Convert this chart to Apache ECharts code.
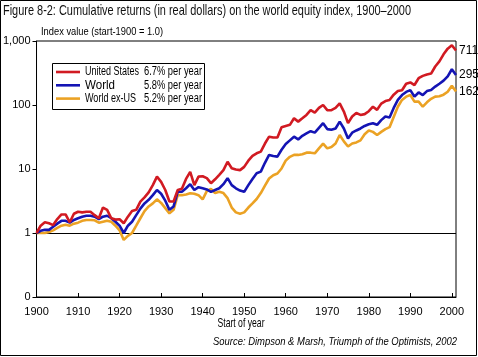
<!DOCTYPE html>
<html>
<head>
<meta charset="utf-8">
<script src="https://cdn.jsdelivr.net/npm/echarts@6/dist/echarts.min.js"></script>
<style>html,body{margin:0;padding:0;background:#fff}#c{width:478px;height:357px}</style>
</head>
<body>
<div id="c"></div>
<script>
var startYear = 1900;
var seriesNames = ['United States', 'World', 'World ex-US'];
var annualRates = ['6.7% per year', '5.8% per year', '5.2% per year'];
var xTickLabels = [1900, 1910, 1920, 1930, 1940, 1950, 1960, 1970, 1980, 1990, 2000];
var yTickLabels = {'0.1': '0', '1': '1', '10': '10', '100': '100', '1000': '1,000'};

var usValues = [
1.0,1.3,1.47,1.42,1.33,1.65,1.95,1.95,1.47,2.0,
2.15,2.1,2.15,2.15,1.9,1.7,2.5,2.3,1.7,1.62,
1.64,1.42,1.8,2.2,2.3,3.1,3.6,4.3,5.6,7.6,
6.3,4.7,3.1,3.1,4.7,4.9,7.0,9.0,5.6,7.6,
7.7,7.2,6.0,6.9,8.1,9.6,13,10.3,9.8,9.6,
10.8,13.5,16,17.6,18.7,25,32,31,31,45,
47,49,62,55,62,70,83,76,90,100,
83,83,90,106,79,52,66,75,70,72,
80,94,84,105,115,120,145,165,170,215,
225,205,262,285,300,310,400,480,620,760,
860,711];
var worldValues = [
1.0,1.08,1.12,1.12,1.25,1.4,1.55,1.55,1.45,1.6,
1.7,1.8,1.86,1.86,1.8,1.65,1.8,1.86,1.7,1.5,
1.3,1.0,1.3,1.5,1.9,2.4,2.9,3.3,3.9,4.7,
4.1,3.2,2.3,2.6,4.4,4.4,5.0,5.8,4.7,5.2,
5.0,4.8,4.4,4.7,5.0,5.8,7.2,5.6,5.0,4.6,
4.4,5.6,7.0,8.6,9.1,12.5,16.6,16,15.6,20,
24.5,28,32,29,33,36,39,37,44,52,
42,41,43,55,43,30,37,40,43,47,
50,52,49,58,66,64,90,120,143,160,
171,135,157,143,165,172,194,215,240,280,
362,295];
var exUsValues = [
1.0,1.0,1.0,1.04,1.1,1.2,1.3,1.35,1.3,1.4,
1.45,1.55,1.6,1.6,1.58,1.45,1.5,1.55,1.5,1.3,
1.1,0.78,0.9,1.0,1.3,1.7,2.2,2.6,2.9,3.36,
2.95,2.45,2.03,2.3,3.9,3.9,4.0,4.17,4.1,3.9,
3.36,4.5,4.9,4.2,4.4,4.2,3.5,2.5,2.1,2.0,
2.1,2.5,2.9,3.4,4.2,5.5,7.1,8.0,8.5,10.2,
13.5,15.5,16.6,16.6,17,18,18,17.6,21,25,
21,22,25,34,27,22.5,25,26,28,35,
40,38,34,38,42,45,65,94,120,135,
143,113,113,94,110,125,135,137,145,161,
200,162];

var colors = ['#d11a22', '#1414b4', '#eba224'];
var allValues = [usValues, worldValues, exUsValues];
var FONT = 'Liberation Sans, Arial, sans-serif';

// measure text so that wide fallback fonts can be condensed to the original's width
var measureCtx = document.createElement('canvas').getContext('2d');
function textWidth(text, size, style) {
  measureCtx.font = (style || '') + ' ' + size + 'px ' + FONT;
  return measureCtx.measureText(text).width;
}
function condensedText(text, size, x, y, targetW, align, extra) {
  var w = textWidth(text, size, extra && extra.fontStyle);
  var s = Math.min(1, targetW / w);
  var st = { text: text, fontSize: size, fill: '#000', fontFamily: FONT, align: align || 'left', verticalAlign: 'middle' };
  if (extra) { for (var k in extra) st[k] = extra[k]; }
  return { type: 'text', x: x, y: y, scaleX: s, scaleY: 1, style: st, silent: true, z: 100 };
}

function toPairs(vals) {
  return vals.map(function (v, i) { return [startYear + i, v]; });
}

var series = seriesNames.map(function (name, k) {
  return {
    name: name,
    type: 'line',
    data: toPairs(allValues[k]),
    showSymbol: false,
    symbol: 'none',
    lineStyle: { width: 2.6, color: colors[k] },
    itemStyle: { color: colors[k] },
    z: 10 - k,
    endLabel: {
      show: true,
      distance: 3,
      color: '#000',
      fontSize: 12,
      fontFamily: FONT,
      formatter: function (p) { return String(p.value[1]); }
    },
    markLine: k === 0 ? {
      silent: true,
      symbol: 'none',
      label: { show: false },
      lineStyle: { color: '#000', width: 1, type: 'solid' },
      data: [{ yAxis: 1 }]
    } : undefined
  };
});

// legend drawn as graphics (box, line samples, condensed text)
var legendGraphics = [
  { type: 'rect', shape: { x: 52.5, y: 63.5, width: 152, height: 46 }, style: { fill: '#fff', stroke: '#000', lineWidth: 1 }, silent: true, z: 90 }
];
seriesNames.forEach(function (name, i) {
  var cy = 72 + i * 13.3;
  legendGraphics.push({ type: 'line', shape: { x1: 56, y1: cy, x2: 80, y2: cy }, style: { stroke: colors[i], lineWidth: 2.6 }, silent: true, z: 95 });
  legendGraphics.push(condensedText(name, 12.5, 85, cy, [54, 30, 51][i], 'left'));
  legendGraphics.push(condensedText(annualRates[i], 12.5, 202, cy, 58, 'right'));
});

var chart = echarts.init(document.getElementById('c'), null, { renderer: 'canvas' });
chart.setOption({
  animation: false,
  backgroundColor: '#fff',
  grid: { left: 30, right: 22, top: 41, bottom: 60, show: true, borderColor: '#000', borderWidth: 1, backgroundColor: 'transparent' },
  legend: { show: false, data: seriesNames },
  xAxis: {
    type: 'value',
    min: 1900, max: 2001, interval: 10,
    axisLine: { lineStyle: { color: '#000', width: 1 } },
    axisTick: { inside: true, length: 4, lineStyle: { color: '#000' }, customValues: xTickLabels },
    axisLabel: { customValues: xTickLabels, color: '#000', fontSize: 11, margin: 9, fontFamily: FONT,
      formatter: function (v) { return String(v); } },
    splitLine: { show: false }
  },
  yAxis: {
    type: 'log',
    logBase: 10,
    min: 0.1, max: 1000,
    axisLine: { show: true, lineStyle: { color: '#000', width: 1 } },
    axisTick: { show: true, inside: false, length: 4, lineStyle: { color: '#000' } },
    axisLabel: {
      color: '#000', fontSize: 11, margin: 6,
      fontFamily: FONT,
      formatter: function (v) {
        var key = String(Math.round(v * 10) / 10);
        return yTickLabels[key] !== undefined ? yTickLabels[key] : '';
      }
    },
    splitLine: { show: false }
  },
  graphic: [
    { type: 'rect', shape: { x: 0.5, y: 0.5, width: 476, height: 355 }, style: { fill: 'none', stroke: '#000', lineWidth: 1 }, silent: true },
    condensedText('Figure 8-2: Cumulative returns (in real dollars) on the world equity index, 1900\u20132000', 14.5, 3, 11, 408, 'left', { fill: '#111' }),
    condensedText('Index value (start-1900 = 1.0)', 11.5, 41, 32, 122, 'left'),
    condensedText('Start of year', 13, 241, 323, 47, 'center'),
    condensedText('Source: Dimpson & Marsh, Triumph of the Optimists, 2002', 11, 457, 342, 244, 'right', { fontStyle: 'italic' })
  ].concat(legendGraphics),
  series: series
});
</script>
</body>
</html>
